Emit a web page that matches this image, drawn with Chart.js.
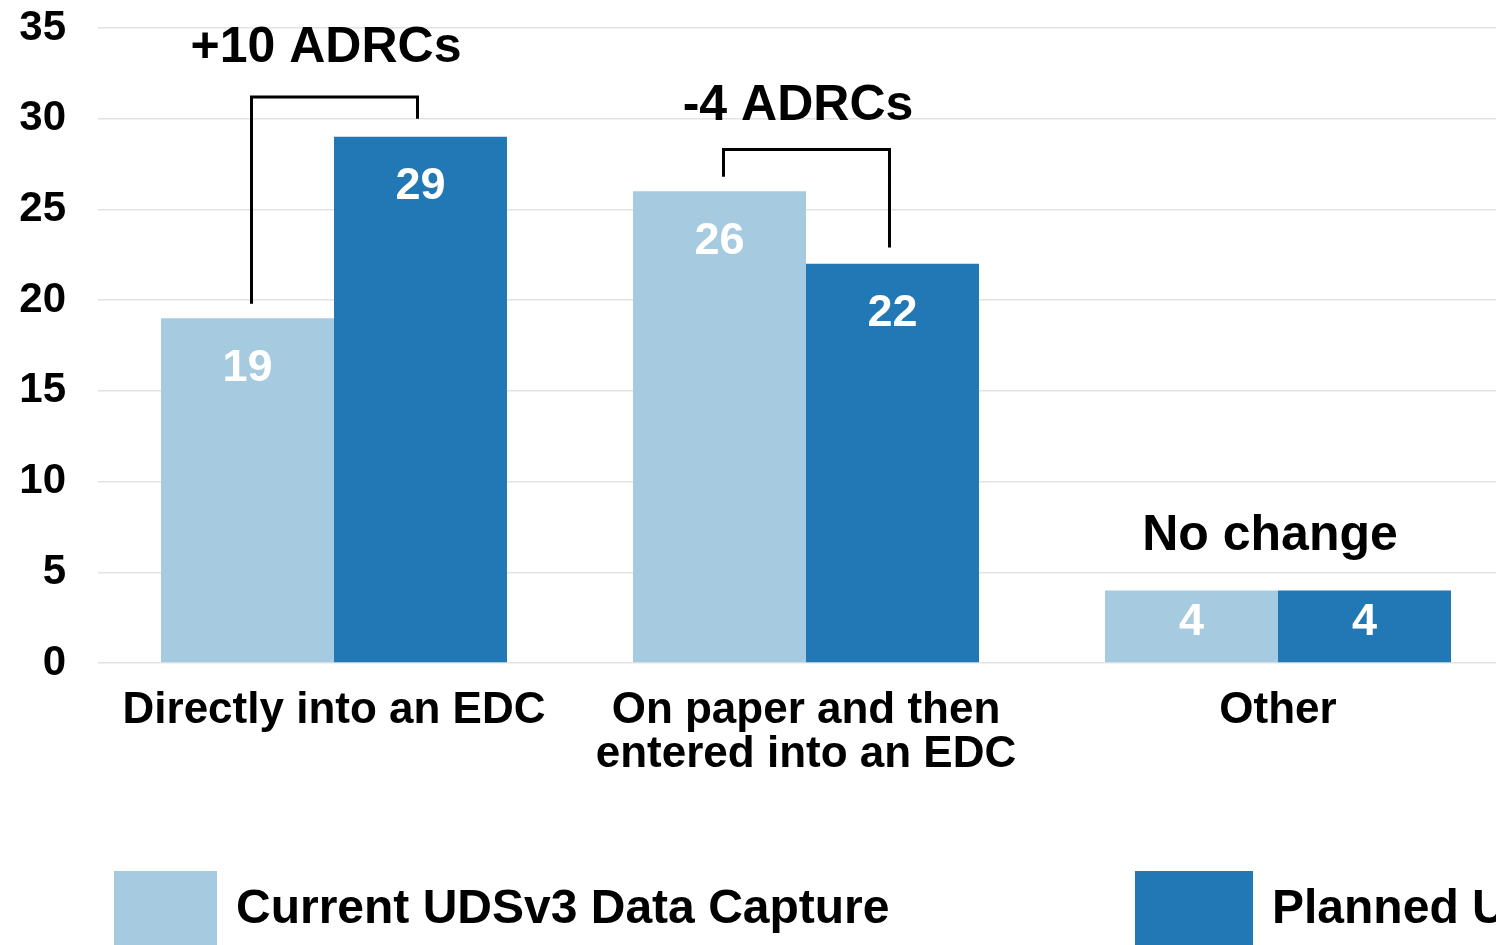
<!DOCTYPE html>
<html lang="en">
<head>
<meta charset="utf-8">
<title>UDS data capture</title>
<style>
	html, body { margin: 0; padding: 0; background: #fff; overflow: hidden; }
	#wrap { width: 1514px; height: 945px; }
</style>
</head>
<body>
<div id="wrap"><canvas id="c1"></canvas></div>
<script src="https://cdn.jsdelivr.net/npm/chart.js@4/dist/chart.umd.min.js"></script>
<script>
	var categories = ['Directly into an EDC', ['On paper and then', 'entered into an EDC'], 'Other'];
	var seriesNames = ['Current UDSv3 Data Capture', 'Planned UDSv4 Data Capture'];
	var currentValues = [19, 26, 4];
	var plannedValues = [29, 22, 4];
	var yTicks = [0, 5, 10, 15, 20, 25, 30, 35];
	// change notes above each group, and the bracket heights (in axis units)
	var changeTexts = ['+10 ADRCs', '-4 ADRCs', 'No change'];
	var changeTextY = [33.9, 30.7, 7.0];
	var bracketTop = [31.2, 28.3, null];
	var bracketLeftEnd = [19.8, 26.8, null];
	var bracketRightEnd = [30.0, 22.9, null];
</script>
<script>
	var FONT = '"Liberation Sans", Arial, sans-serif';
	var colors = ['#a6cbe0', '#2178b4'];

	var barLabels = {
		id: 'barLabels',
		afterDatasetsDraw: function(chart) {
			var ctx = chart.ctx;
			ctx.save();
			ctx.fillStyle = '#fff';
			ctx.font = 'bold 45px ' + FONT;
			ctx.textAlign = 'center';
			ctx.textBaseline = 'middle';
			chart.data.datasets.forEach(function(ds, i) {
				chart.getDatasetMeta(i).data.forEach(function(bar, j) {
					var y = Math.min(bar.y + 50, (bar.y + bar.base) / 2 - 4);
					ctx.fillText(ds.data[j], bar.x, y);
				});
			});
			ctx.restore();
		}
	};

	var changeNotes = {
		id: 'changeNotes',
		afterDraw: function(chart) {
			var ctx = chart.ctx;
			var ys = chart.scales.y;
			var xs = chart.scales.x;
			var left = chart.getDatasetMeta(0).data;
			var right = chart.getDatasetMeta(1).data;
			ctx.save();
			ctx.strokeStyle = '#000';
			ctx.lineWidth = 3;
			ctx.fillStyle = '#000';
			ctx.font = 'bold 50px ' + FONT;
			ctx.textAlign = 'center';
			ctx.textBaseline = 'middle';
			changeTexts.forEach(function(t, i) {
				ctx.fillText(t, xs.getPixelForValue(i) - 8, ys.getPixelForValue(changeTextY[i]));
				if (bracketTop[i] === null) return;
				var top = ys.getPixelForValue(bracketTop[i]);
				ctx.beginPath();
				ctx.moveTo(left[i].x + 4, ys.getPixelForValue(bracketLeftEnd[i]));
				ctx.lineTo(left[i].x + 4, top);
				ctx.lineTo(right[i].x - 3, top);
				ctx.lineTo(right[i].x - 3, ys.getPixelForValue(bracketRightEnd[i]));
				ctx.stroke();
			});
			ctx.restore();
		}
	};

	var bottomLegend = {
		id: 'bottomLegend',
		afterDraw: function(chart, args, opts) {
			var ctx = chart.ctx;
			ctx.save();
			ctx.font = 'bold 48px ' + FONT;
			ctx.textBaseline = 'middle';
			ctx.textAlign = 'left';
			chart.data.datasets.forEach(function(ds, i) {
				ctx.fillStyle = ds.backgroundColor;
				ctx.fillRect(opts.x[i], opts.top, opts.box[i], 90);
				ctx.fillStyle = '#000';
				ctx.fillText(ds.label, opts.x[i] + opts.box[i] + 19, opts.top + 39);
			});
			ctx.restore();
		}
	};

	var config = {
		type: 'bar',
		plugins: [barLabels, changeNotes, bottomLegend],
		data: {
			labels: categories,
			datasets: [
				{label: seriesNames[0], data: currentValues, backgroundColor: colors[0]},
				{label: seriesNames[1], data: plannedValues, backgroundColor: colors[1]}
			]
		},
		options: {
			animation: false,
			responsive: true,
			maintainAspectRatio: false,
			layout: {padding: {left: 19, top: 28, right: 0, bottom: 150}},
			datasets: {bar: {categoryPercentage: 0.733, barPercentage: 1.0}},
			plugins: {
				legend: {display: false},
				tooltip: {enabled: false},
				bottomLegend: {x: [114, 1135], box: [103, 118], top: 871}
			},
			scales: {
				x: {
					grid: {display: false},
					border: {display: false},
					ticks: {
						color: '#000',
						padding: 18,
						font: {family: FONT, size: 44, weight: 'bold', lineHeight: 1.0}
					}
				},
				y: {
					min: 0,
					max: 35,
					afterBuildTicks: function(axis) {
						axis.ticks = yTicks.map(function(v) { return {value: v}; });
					},
					afterFit: function(axis) {
						axis.width = 79;
						axis.paddingTop = 0;
					},
					grid: {color: '#e3e3e3', lineWidth: 1.5, drawTicks: false},
					border: {display: false},
					ticks: {
						color: '#000',
						padding: 32,
						font: {family: FONT, size: 42, weight: 'bold'}
					}
				}
			}
		}
	};

	var chart = new Chart(document.getElementById('c1'), config);
</script>
</body>
</html>
